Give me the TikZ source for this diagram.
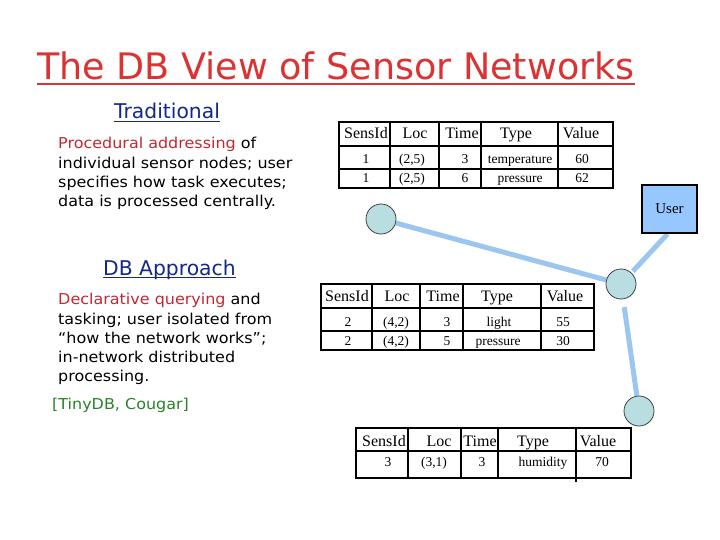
\documentclass[tikz,border=0pt]{standalone}
\usepackage{fontspec}
\setmainfont{Liberation Serif}
\newfontfamily\vfont{DejaVu Sans}
\newfontfamily\vbody[FakeStretch=1.065]{DejaVu Sans}
\usetikzlibrary{backgrounds}
\definecolor{titlered}{RGB}{220,50,50}
\definecolor{wordred}{RGB}{195,40,50}
\definecolor{headblue}{RGB}{20,40,140}
\definecolor{refgreen}{RGB}{40,130,40}
\definecolor{userblue}{RGB}{150,200,255}
\definecolor{linkblue}{RGB}{155,198,240}
\definecolor{nodeteal}{RGB}{185,222,226}
\tikzset{
  titletext/.style={anchor=base west, inner sep=0pt, text=titlered, font=\vfont\fontsize{36.5}{40}\selectfont},
  headtext/.style={anchor=base west, inner sep=0pt, text=headblue, font=\vfont\fontsize{20.3}{24}\selectfont},
  bodytext/.style={anchor=base west, inner sep=0pt, text=black, font=\vbody\fontsize{15}{19}\selectfont},
  tbl/.style={draw=black, line width=1.6pt},
  thead/.style={anchor=base, inner sep=0pt, font=\fontsize{16}{18}\selectfont},
  tcell/.style={anchor=base, inner sep=0pt, font=\fontsize{13.5}{16}\selectfont},
  sensor/.style={circle, draw=black!75, line width=0.8pt, fill=nodeteal, minimum size=30pt, inner sep=0pt},
  userbox/.style={draw=black, line width=2pt, fill=userblue, minimum width=55pt, minimum height=48pt, inner sep=0pt, font=\fontsize{15}{18}\selectfont},
  link/.style={draw=linkblue, line width=5pt}
}
\begin{document}
\begin{tikzpicture}[x=1pt,y=-1pt]
\useasboundingbox (0,0) rectangle (720,540);

% title and headings
\node[titletext] (title) at (37,80) {The DB View of Sensor Networks};
\draw[titlered, line width=2pt] ([yshift=-4pt]title.base west) -- ([yshift=-4pt]title.base east);

\node[headtext] (trad) at (114,119) {Traditional};
\draw[headblue, line width=1.5pt] ([yshift=-2.5pt]trad.base west) -- ([yshift=-2.5pt]trad.base east);

\node[bodytext] (pa1) at (58,149) {\textcolor{wordred}{Procedural addressing} of};
\node[bodytext] (pa2) at (58,169) {individual sensor nodes; user};
\node[bodytext] (pa3) at (58,188) {specifies how task executes;};
\node[bodytext] (pa4) at (58,207) {data is processed centrally.};

\node[headtext] (dbap) at (103,275) {DB Approach};
\draw[headblue, line width=1.5pt] ([yshift=-2.5pt]dbap.base west) -- ([yshift=-2.5pt]dbap.base east);

\node[bodytext] (pb1) at (58,304) {\textcolor{wordred}{Declarative querying} and};
\node[bodytext] (pb2) at (58,324) {tasking; user isolated from};
\node[bodytext] (pb3) at (58,343) {“how the network works”;};
\node[bodytext] (pb4) at (58,362) {in-network distributed};
\node[bodytext] (pb5) at (58,381) {processing.};
\node[bodytext, text=refgreen] (refs) at (52,409) {[TinyDB, Cougar]};

% table 1
\draw[tbl] (339,122) rectangle (613,188);
\foreach \x in {390,439,481,558} \draw[tbl] (\x,122) -- (\x,188);
\foreach \y in {146,169} \draw[tbl] (339,\y) -- (613,\y);
\foreach \t/\x [count=\i] in {SensId/366,Loc/415,Time/462,Type/516,Value/581}
  \node[thead] (ta-h\i) at (\x,139) {\t};
\foreach \t/\x [count=\i] in {1/366,{(2,5)}/412,3/465,temperature/520,60/582}
  \node[tcell] (ta-r\i) at (\x,164) {\t};
\foreach \t/\x [count=\i] in {1/366,{(2,5)}/412,6/465,pressure/520,62/582}
  \node[tcell] (ta-s\i) at (\x,183) {\t};

% table 2
\draw[tbl] (321,284) rectangle (594,350);
\foreach \x in {372,420,463,541} \draw[tbl] (\x,284) -- (\x,350);
\foreach \y in {308,331} \draw[tbl] (321,\y) -- (594,\y);
\foreach \t/\x [count=\i] in {SensId/347,Loc/397,Time/443,Type/497,Value/565}
  \node[thead] (tb-h\i) at (\x,301) {\t};
\foreach \t/\x [count=\i] in {2/348,{(4,2)}/396,3/447,light/499,55/563}
  \node[tcell] (tb-r\i) at (\x,326) {\t};
\foreach \t/\x [count=\i] in {2/348,{(4,2)}/396,5/447,pressure/498,30/563}
  \node[tcell] (tb-s\i) at (\x,345) {\t};

% table 3
\draw[tbl] (356,428) rectangle (631,478);
\foreach \x in {408,461,498} \draw[tbl] (\x,428) -- (\x,478);
\draw[tbl] (576,428) -- (576,482);
\draw[tbl] (356,451) -- (631,451);
\foreach \t/\x [count=\i] in {SensId/384,Loc/439,Time/480,Type/533,Value/598}
  \node[thead] (tc-h\i) at (\x,446) {\t};
\foreach \t/\x [count=\i] in {3/388,{(3,1)}/434,3/482,humidity/543,70/602}
  \node[tcell] (tc-r\i) at (\x,466) {\t};

% network
\node[userbox] (user) at (669.5,209) {User};
\node[sensor] (s1) at (381,219) {};
\node[sensor] (s2) at (621,284) {};
\node[sensor] (s3) at (639,411) {};

\begin{scope}[on background layer]
  \fill[white] (0,0) rectangle (720,540);
  \draw[link] (s1) -- (s2);
  \draw[link, shorten >=2pt] ([xshift=-2pt]user.south) -- (s2);
  \draw[link, shorten <=8pt] (s2) -- (s3);
\end{scope}
\end{tikzpicture}
\end{document}
